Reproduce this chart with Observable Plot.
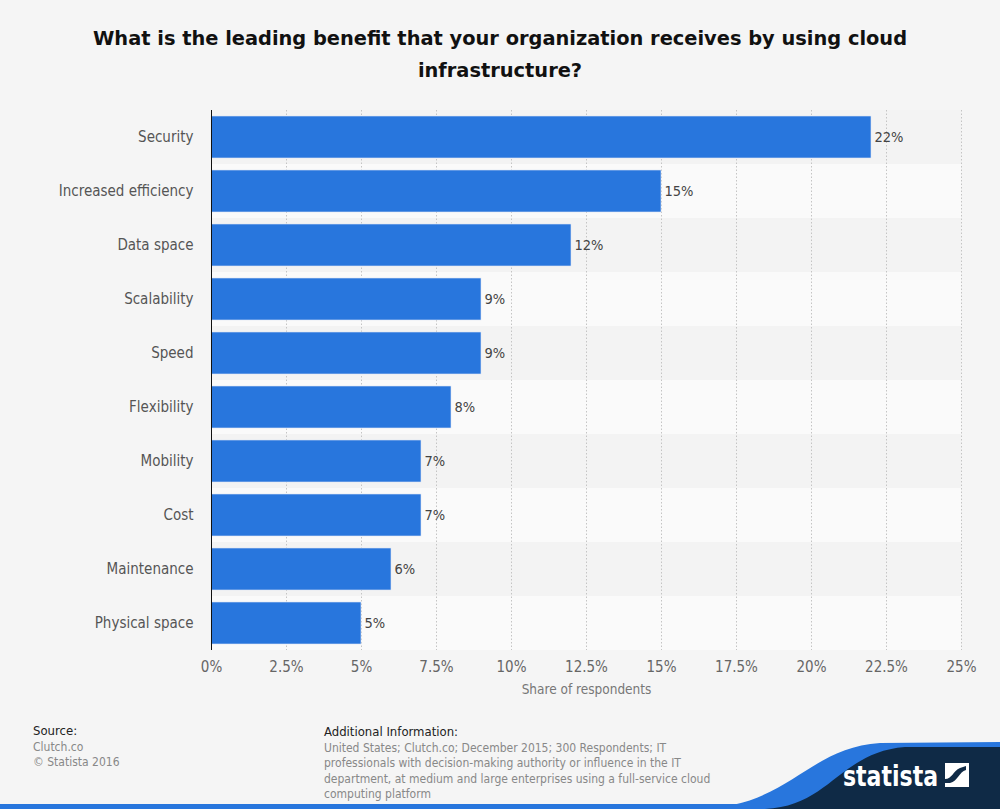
<!DOCTYPE html>
<html>
<head>
<meta charset="utf-8">
<script src="https://cdn.jsdelivr.net/npm/d3@7"></script>
<script src="https://cdn.jsdelivr.net/npm/@observablehq/plot@0.6"></script>
<style>
  html, body { margin: 0; padding: 0; background: #f5f5f5; }
  #wrap { position: relative; width: 1000px; height: 809px; overflow: hidden; background: #f5f5f5;
          font-family: "DejaVu Sans Condensed", "DejaVu Sans", sans-serif; }
  #title { position: absolute; left: 0; top: 23px; width: 1000px; text-align: center;
           font-family: "DejaVu Sans", sans-serif; font-weight: bold; font-size: 19.4px; line-height: 32px; color: #111; }
  #chart { position: absolute; left: 0; top: 0; }
  .foot { position: absolute; font-size: 12px; line-height: 15.5px; color: #888; }
  .foot b { font-weight: normal; color: #222; font-size: 13px; display: block; margin-bottom: 1px; }
  #logo { position: absolute; left: 0; top: 0; }
</style>
</head>
<body>
<div id="wrap">
  <div id="chart"></div>
  <div id="title">What is the leading benefit that your organization receives by using cloud<br>infrastructure?</div>
  <div class="foot" style="left:33px; top:723px;"><b>Source:</b>Clutch.co<br>© Statista 2016</div>
  <div class="foot" style="left:324px; top:724px; width:400px;"><b>Additional Information:</b>United States; Clutch.co; December 2015; 300 Respondents; IT professionals with decision-making authority or influence in the IT department, at medium and large enterprises using a full-service cloud computing platform</div>
  <svg id="logo" width="1000" height="809">
    <rect x="0" y="804" width="1000" height="5" fill="#2876dd"/>
    <path d="M 695,809 C 790,808 805,748 880,743 L 1000,742 L 1000,809 Z" fill="#2876dd"/>
    <path d="M 765,809 C 830,806 840,752 905,747 L 1000,747 L 1000,809 Z" fill="#0f2a46"/>
    <text x="843" y="786" fill="#fff" font-family="DejaVu Sans Condensed, DejaVu Sans, sans-serif" font-weight="bold" font-size="28" textLength="95" lengthAdjust="spacingAndGlyphs">statista</text>
    <rect x="945" y="763" width="24" height="24" fill="#fff"/>
    <path d="M 945,779 C 952,779 953,771 960,768 L 966,766 L 966,770 C 959,772 958,781 950,783 L 945,783 Z" fill="#0f2a46"/>
  </svg>
</div>
<script>
const categories = ["Security", "Increased efficiency", "Data space", "Scalability", "Speed", "Flexibility", "Mobility", "Cost", "Maintenance", "Physical space"];
const values = [22, 15, 12, 9, 9, 8, 7, 7, 6, 5];
const xTicks = [0, 2.5, 5, 7.5, 10, 12.5, 15, 17.5, 20, 22.5, 25];
const axisTitle = "Share of respondents";

const data = categories.map((c, i) => ({category: c, value: values[i]}));
const font = "'DejaVu Sans Condensed', 'DejaVu Sans', sans-serif";

const chart = Plot.plot({
  width: 1000,
  height: 809,
  marginTop: 110,
  marginBottom: 159,
  marginLeft: 211,
  marginRight: 39,
  style: { background: "transparent", fontFamily: font },
  x: { domain: [0, 25], label: null },
  y: { domain: categories, padding: 0, label: null },
  marks: [
    Plot.barX(categories, { y: d => d, x1: 0, x2: 25, fill: (d, i) => (i % 2 ? "#fafafa" : "#f3f3f3") }),
    Plot.gridX(xTicks, { stroke: "#c4c4c4", strokeOpacity: 1, strokeDasharray: "1.5,2" }),
    Plot.barX(data, { x: "value", y: "category", fill: "#2876dd", insetTop: 6, insetBottom: 6, stroke: "#dfe8f5", strokeWidth: 0.6 }),
    Plot.ruleX([0], { stroke: "#111", strokeWidth: 1 }),
    Plot.text(data, { x: "value", y: "category", text: d => d.value + "%", dx: 3, textAnchor: "start", fill: "#444", fontSize: 14.5 }),
    Plot.axisY({ tickSize: 0, tickPadding: 18, fontSize: 15, color: "#555", label: null }),
    Plot.axisX({ ticks: xTicks, tickFormat: d => d + "%", tickSize: 0, tickPadding: 11, fontSize: 15, color: "#666", label: null }),
    Plot.text([axisTitle], { frameAnchor: "bottom", dy: 43, fill: "#777", fontSize: 13.5 })
  ]
});
document.getElementById("chart").appendChild(chart);
</script>
</body>
</html>
